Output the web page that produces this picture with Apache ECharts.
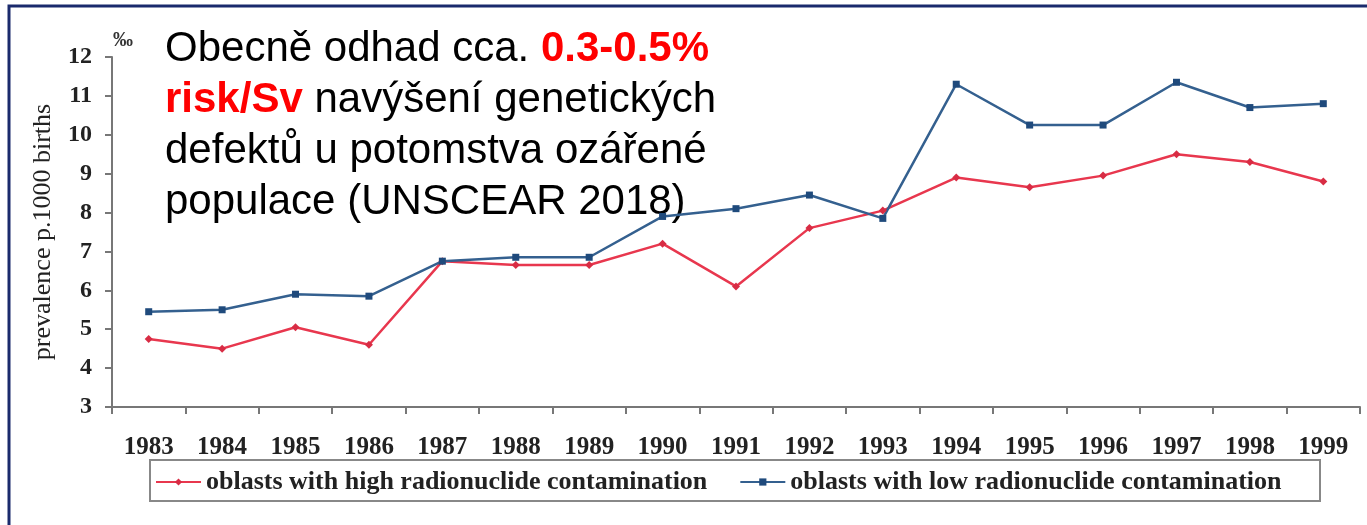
<!DOCTYPE html>
<html><head><meta charset="utf-8">
<script src="https://cdn.jsdelivr.net/npm/echarts@6/dist/echarts.min.js"></script>
<style>html,body{margin:0;padding:0;background:#fff;}#c{width:1367px;height:525px;}</style>
</head><body><div id="c"></div>
<script>
const years = ['1983','1984','1985','1986','1987','1988','1989','1990','1991','1992','1993','1994','1995','1996','1997','1998','1999'];
const highContamination = [4.75,4.5,5.05,4.6,6.75,6.65,6.65,7.2,6.1,7.6,8.05,8.9,8.65,8.95,9.5,9.3,8.8];
const lowContamination = [5.45,5.5,5.9,5.85,6.75,6.85,6.85,7.9,8.1,8.45,7.85,11.3,10.25,10.25,11.35,10.7,10.8];
const yTicks = {min:3, max:12, interval:1};
const seriesNames = ['oblasts with high radionuclide contamination','oblasts with low radionuclide contamination'];
const yName = 'prevalence p.1000 births';

const chart = echarts.init(document.getElementById('c'));
const serif = '"Liberation Serif","DejaVu Serif",serif';
chart.setOption({
  animation:false,
  backgroundColor:'#fff',
  grid:{left:112,right:7,top:57,bottom:118},
  legend:{
    left:155, top:469,
    itemWidth:45, itemHeight:9, itemGap:32,
    padding:0,
    textStyle:{fontFamily:serif,fontWeight:'bold',fontSize:26,color:'#222'},
    data:seriesNames
  },
  xAxis:{
    type:'category', data:years, boundaryGap:true,
    axisLine:{lineStyle:{color:'#777',width:2}},
    axisTick:{show:true,length:7,lineStyle:{color:'#777',width:2}},
    axisLabel:{fontFamily:serif,fontWeight:'bold',fontSize:25,color:'#222',margin:28}
  },
  yAxis:{
    type:'value', min:yTicks.min, max:yTicks.max, interval:yTicks.interval,
    name:yName, nameLocation:'middle', nameGap:56, nameRotate:90,
    nameTextStyle:{fontFamily:serif,fontSize:26,color:'#222'},
    splitLine:{show:false},
    axisLine:{show:true,lineStyle:{color:'#777',width:2}},
    axisTick:{show:true,length:7,lineStyle:{color:'#777',width:2}},
    axisLabel:{fontFamily:serif,fontWeight:'bold',fontSize:24,color:'#222',margin:20}
  },
  series:[
    {name:seriesNames[0], type:'line', data:highContamination, color:'#e8374e',
     symbol:'diamond', symbolSize:8, lineStyle:{width:2.5,color:'#e8374e'}, itemStyle:{color:'#d82c44'}},
    {name:seriesNames[1], type:'line', data:lowContamination, color:'#2f5b8e',
     symbol:'rect', symbolSize:7, lineStyle:{width:2.5,color:'#34608f'}, itemStyle:{color:'#1f4a7c'}}
  ],
  graphic:[
    {type:'rect', shape:{x:9,y:6,width:1400,height:600}, style:{fill:'none',stroke:'#1a2a6c',lineWidth:3}, silent:true},
    {type:'rect', shape:{x:150,y:460,width:1170,height:41}, style:{fill:'none',stroke:'#888',lineWidth:2}, silent:true},
    {type:'text', left:113, top:31, style:{text:'‰', font:'bold 20px "Liberation Serif"', fill:'#333'}},
    {type:'text', left:165, top:28, style:{
      text:'{a|Obecně odhad cca. }{r|0.3-0.5%}\n{r|risk/Sv}{a| navýšení genetických}\n{a|defektů u potomstva ozářené}\n{a|populace (UNSCEAR 2018)}',
      rich:{
        a:{fontFamily:'"Liberation Sans",Arial,sans-serif',fontSize:42,lineHeight:51,fill:'#000'},
        r:{fontFamily:'"Liberation Sans",Arial,sans-serif',fontSize:42,lineHeight:51,fontWeight:'bold',fill:'#ff0000'}
      }
    }}
  ]
});
</script></body></html>
